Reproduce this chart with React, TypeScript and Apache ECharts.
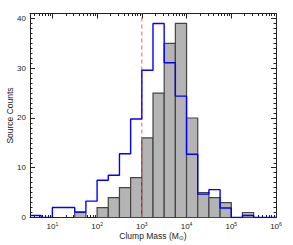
import React, { useEffect, useRef } from "react";
import * as echarts from "echarts";

// bin lower edges in log10(M / Msun), width 0.25 dex
const binStart = 0.5;
const binWidth = 0.25;
const grayCounts = [0, 0, 0, 0, 1, 0, 2, 4, 6, 8, 16, 25, 35, 39, 20, 5, 4, 3, 0, 1, 0, 0];
const blueCounts = [0.4, 0, 2.0, 2.0, 1.1, 3.3, 7.5, 8.5, 12.8, 19.8, 29.6, 39.0, 31.1, 24.4, 12.7, 4.7, 5.6, 1.9, 0, 0.4, 0, 0];
const xDecades = [1, 2, 3, 4, 5, 6];
const yMajor = [0, 10, 20, 30, 40];
const cutoffLogMass = 3;
const xMin = 0.5;
const xMax = 6;
const yMin = 0;
const yMax = 41;

const FONT = "Liberation Sans, Arial, Helvetica, sans-serif";
const AX = "#222";

export default function App() {
  const ref = useRef<HTMLDivElement>(null);
  useEffect(() => {
    document.body.style.margin = "0";
    const chart = echarts.init(ref.current!, undefined, { renderer: "svg" });

    const xMinor: number[] = [];
    for (let n = 0; n < 6; n++) {
      for (let k = 2; k <= 9; k++) {
        const v = Math.log10(k) + n;
        if (v >= xMin && v <= xMax) xMinor.push(v);
      }
    }
    const yMinor: number[] = [];
    for (let v = yMin; v <= yMax; v++) if (v % 10 !== 0) yMinor.push(v);

    const grayData = grayCounts.map((c, i) => [
      binStart + i * binWidth,
      binStart + (i + 1) * binWidth,
      c,
    ]);
    const blueLine: number[][] = [];
    blueCounts.forEach((c, i) => {
      const lo = binStart + i * binWidth;
      blueLine.push([lo, c], [lo + binWidth, c]);
    });

    const xBase = (position: string, ticks: number[], len: number, labels: boolean, line: boolean) => ({
      type: "value",
      position,
      min: xMin,
      max: xMax,
      axisLine: { show: line, onZero: false, lineStyle: { color: AX, width: 1 } },
      axisTick: { show: true, inside: true, length: len, customValues: ticks, lineStyle: { color: AX, width: 1 } },
      axisLabel: labels
        ? {
            show: true,
            customValues: xDecades,
            margin: 4,
            fontFamily: FONT,
            fontSize: 8,
            color: AX,
            formatter: (v: number) => `10{s|${Math.round(v)}}`,
            rich: { s: { fontSize: 5, verticalAlign: "top", fontFamily: FONT, color: AX, padding: [0, 0, 4, 0] } },
          }
        : { show: false },
      splitLine: { show: false },
    });
    const yBase = (position: string, ticks: number[], len: number, labels: boolean, line: boolean) => ({
      type: "value",
      position,
      min: yMin,
      max: yMax,
      axisLine: { show: line, onZero: false, lineStyle: { color: AX, width: 1 } },
      axisTick: { show: true, inside: true, length: len, customValues: ticks, lineStyle: { color: AX, width: 1 } },
      axisLabel: labels
        ? { show: true, customValues: yMajor, margin: 4, fontFamily: FONT, fontSize: 8, color: AX }
        : { show: false },
      splitLine: { show: false },
    });

    const xAxes: any[] = [
      {
        ...xBase("bottom", xDecades, 5, true, true),
        name: "Clump Mass (M{sub|⊙})",
        nameLocation: "middle",
        nameGap: 13,
        nameMoveOverlap: false,
        nameTextStyle: {
          fontFamily: FONT,
          fontSize: 8.5,
          color: AX,
          rich: { sub: { fontSize: 6, verticalAlign: "bottom", fontFamily: "DejaVu Sans", color: AX, padding: [4, 0, 0, 0] } },
        },
      },
      xBase("bottom", xMinor, 2.5, false, false),
      xBase("top", xDecades, 5, false, true),
      xBase("top", xMinor, 2.5, false, false),
    ];
    const yAxes: any[] = [
      {
        ...yBase("left", yMajor, 5, true, true),
        name: "Source Counts",
        nameLocation: "middle",
        nameGap: 16,
        nameMoveOverlap: false,
        nameTextStyle: { fontFamily: FONT, fontSize: 8.5, color: AX },
      },
      yBase("left", yMinor, 2.5, false, false),
      yBase("right", yMajor, 5, false, true),
      yBase("right", yMinor, 2.5, false, false),
    ];

    chart.setOption({
      animation: false,
      backgroundColor: "#ffffff",
      grid: { left: 30, right: 17, top: 13.5, bottom: 27.5, containLabel: false, outerBoundsMode: "none" },
      xAxis: xAxes,
      yAxis: yAxes,
      series: [
        {
          type: "custom",
          xAxisIndex: 0,
          yAxisIndex: 0,
          data: grayData,
          encode: { x: [0, 1], y: 2 },
          renderItem: (params: any, api: any) => {
            const lo = api.value(0);
            const hi = api.value(1);
            const c = api.value(2);
            if (!c) return null;
            const p1 = api.coord([lo, c]);
            const p2 = api.coord([hi, 0]);
            return {
              type: "rect",
              shape: { x: p1[0], y: p1[1], width: p2[0] - p1[0], height: p2[1] - p1[1] },
              style: { fill: "#b4b4b4", stroke: "#444444", lineWidth: 1.2 },
            };
          },
          z: 2,
        },
        {
          type: "line",
          xAxisIndex: 0,
          yAxisIndex: 0,
          data: [
            [cutoffLogMass, yMin],
            [cutoffLogMass, yMax],
          ],
          symbol: "none",
          lineStyle: { color: "#ff5a5a", width: 1, type: [4, 3] },
          z: 3,
        },
        {
          type: "line",
          xAxisIndex: 0,
          yAxisIndex: 0,
          data: blueLine,
          symbol: "none",
          lineStyle: { color: "#0000ff", width: 1.4 },
          z: 4,
        },
      ],
    });
    return () => chart.dispose();
  }, []);
  return (
    <div
      ref={ref}
      style={{ position: "absolute", left: 0, top: 0, width: 293, height: 245, background: "#fff" }}
    />
  );
}
